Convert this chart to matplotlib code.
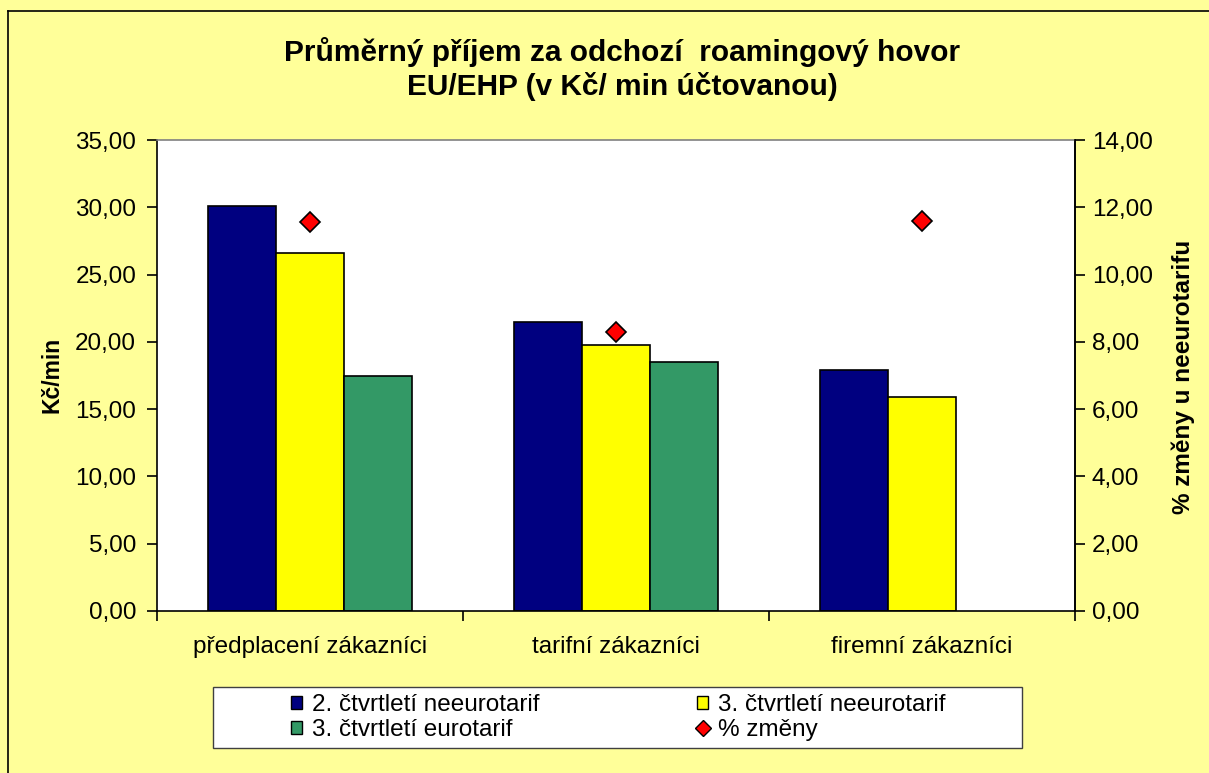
import matplotlib
matplotlib.use("Agg")
import matplotlib.pyplot as plt
from matplotlib.lines import Line2D
from matplotlib.patches import Patch, Rectangle
from matplotlib.ticker import FuncFormatter, FixedLocator
import numpy as np

plt.rcParams['font.family'] = ['Liberation Sans', 'DejaVu Sans']

categories = ["předplacení zákazníci", "tarifní zákazníci", "firemní zákazníci"]
q2_neuro = [30.1, 21.45, 17.9]
q3_neuro = [26.6, 19.75, 15.9]
q3_euro = [17.45, 18.5, np.nan]
pct_change = [11.55, 8.3, 11.6]

series_names = ["2. čtvrtletí neeurotarif", "3. čtvrtletí neeurotarif",
                "3. čtvrtletí eurotarif", "% změny"]
title = "Průměrný příjem za odchozí  roamingový hovor\nEU/EHP (v Kč/ min účtovanou)"
ylabel_left = "Kč/min"
ylabel_right = "% změny u neeurotarifu"

c_navy = "#000080"
c_yellow = "#FFFF00"
c_green = "#339966"
c_red = "#FF0000"
c_bg = "#FFFF99"

W, H = 1209, 773
fig = plt.figure(figsize=(W / 100, H / 100), dpi=100, facecolor=c_bg)

ax = fig.add_axes([157 / W, 1 - 611 / H, 918 / W, 471 / H])
ax.set_facecolor("white")

x = np.arange(len(categories))
bw = 0.222
ax.bar(x - bw, q2_neuro, bw, color=c_navy, edgecolor="black", linewidth=1.2, zorder=2)
ax.bar(x, q3_neuro, bw, color=c_yellow, edgecolor="black", linewidth=1.2, zorder=2)
ax.bar(x + bw, q3_euro, bw, color=c_green, edgecolor="black", linewidth=1.2, zorder=2)

ax.set_xlim(-0.5, 2.5)
ax.set_ylim(0, 35)
ax.set_yticks(np.arange(0, 35.1, 5))
fmt = FuncFormatter(lambda v, p: f"{v:.2f}".replace(".", ","))
ax.yaxis.set_major_formatter(fmt)
ax.set_xticks(x)
ax.set_xticklabels(categories, fontsize=17.5)
ax.tick_params(axis="x", which="major", length=0, pad=18)
ax.xaxis.set_minor_locator(FixedLocator([-0.5, 0.5, 1.5, 2.5]))
ax.tick_params(axis="x", which="minor", length=7, width=1.2, direction="out")
ax.tick_params(axis="y", labelsize=17.5, length=7, width=1.2, pad=8)

for s in ["left", "bottom", "right"]:
    ax.spines[s].set_color("black")
    ax.spines[s].set_linewidth(1.2)
ax.spines["top"].set_color("#808080")
ax.spines["top"].set_linewidth(1.2)

ax2 = ax.twinx()
ax2.set_ylim(0, 14)
ax2.set_yticks(np.arange(0, 14.1, 2))
ax2.yaxis.set_major_formatter(fmt)
ax2.tick_params(axis="y", labelsize=17.5, length=7, width=1.2, pad=5)
ax2.plot(x, pct_change, linestyle="none", marker="D", markersize=10,
         markerfacecolor=c_red, markeredgecolor="black", markeredgewidth=1.2, zorder=3)
for s in ax2.spines.values():
    s.set_visible(False)
ax2.spines["right"].set_visible(True)
ax2.spines["right"].set_color("black")
ax2.spines["right"].set_linewidth(1.2)

# axis titles
fig.text(52 / W, 1 - 375 / H, ylabel_left, rotation=90, ha="center", va="center",
         fontsize=16.5, fontweight="bold")
fig.text(1183 / W, 1 - 377 / H, ylabel_right, rotation=90, ha="center", va="center",
         fontsize=17.5, fontweight="bold")

fig.text(622 / W, 1 - 69 / H, title, ha="center", va="center", fontsize=21.5,
         fontweight="bold", linespacing=1.2)

# outer chart border (top and left visible in the reference)
fig.add_artist(Line2D([8 / W, 8 / W], [0, 1 - 11 / H], transform=fig.transFigure,
                      color="black", linewidth=1.2))
fig.add_artist(Line2D([8 / W, 1], [1 - 11 / H, 1 - 11 / H], transform=fig.transFigure,
                      color="black", linewidth=1.2))

# legend frame
fig.add_artist(Rectangle((213 / W, 1 - 748 / H), (1022 - 213) / W, (748 - 687) / H,
                         transform=fig.transFigure, facecolor="white",
                         edgecolor="#404040", linewidth=1.0, zorder=1))

h_navy = Patch(facecolor=c_navy, edgecolor="black", linewidth=1.0)
h_yellow = Patch(facecolor=c_yellow, edgecolor="black", linewidth=1.0)
h_green = Patch(facecolor=c_green, edgecolor="black", linewidth=1.0)
h_red = Line2D([], [], linestyle="none", marker="D", markersize=8,
               markerfacecolor=c_red, markeredgecolor="black", markeredgewidth=1.0)

leg_kw = dict(frameon=False, fontsize=17.5, handlelength=0.46, handleheight=0.46,
              handletextpad=0.4, labelspacing=0.12, borderpad=0, borderaxespad=0)
leg1 = fig.legend([h_navy, h_green], [series_names[0], series_names[2]],
                  loc="upper left", bbox_to_anchor=(291 / W, 1 - 694 / H), **leg_kw)
leg2 = fig.legend([h_yellow, h_red], [series_names[1], series_names[3]],
                  loc="upper left", bbox_to_anchor=(697 / W, 1 - 694 / H), **leg_kw)
leg1.set_zorder(3)
leg2.set_zorder(3)

fig.savefig("out.png", dpi=100, facecolor=c_bg)
